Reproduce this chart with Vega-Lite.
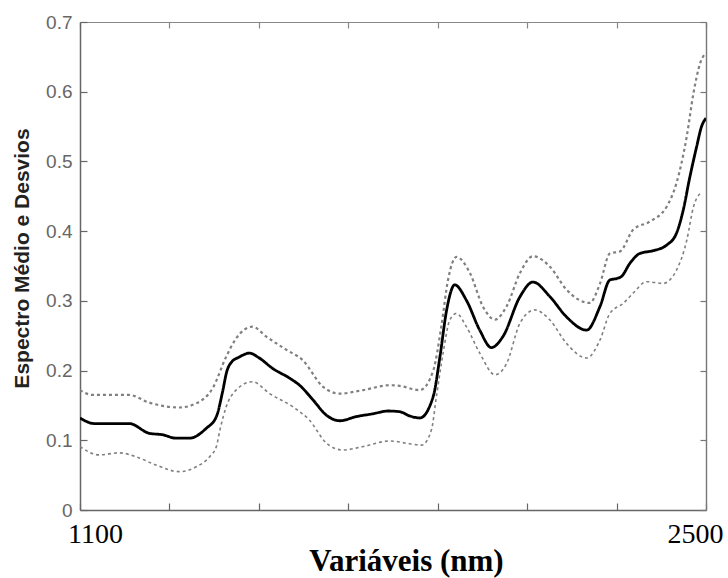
{
  "$schema": "https://vega.github.io/schema/vega-lite/v6.json",
  "width": 626,
  "height": 488,
  "autosize": {"type": "none"},
  "padding": {"left": 80, "top": 22, "right": 22, "bottom": 68},
  "background": "white",
  "config": {"view": {"stroke": null}},
  "data": {"values": [
    {"nm": 1100, "v": 0.132, "s": "media"}, {"nm": 1132, "v": 0.124, "s": "media"}, {"nm": 1210, "v": 0.124, "s": "media"},
    {"nm": 1255, "v": 0.110, "s": "media"}, {"nm": 1284, "v": 0.108, "s": "media"}, {"nm": 1315, "v": 0.103, "s": "media"},
    {"nm": 1345, "v": 0.103, "s": "media"}, {"nm": 1382, "v": 0.117, "s": "media"}, {"nm": 1405, "v": 0.134, "s": "media"},
    {"nm": 1419, "v": 0.170, "s": "media"}, {"nm": 1428, "v": 0.198, "s": "media"}, {"nm": 1440, "v": 0.213, "s": "media"},
    {"nm": 1455, "v": 0.219, "s": "media"},
    {"nm": 1479, "v": 0.225, "s": "media"}, {"nm": 1501, "v": 0.218, "s": "media"}, {"nm": 1531, "v": 0.203, "s": "media"},
    {"nm": 1569, "v": 0.189, "s": "media"}, {"nm": 1591, "v": 0.179, "s": "media"}, {"nm": 1621, "v": 0.158, "s": "media"},
    {"nm": 1651, "v": 0.136, "s": "media"}, {"nm": 1681, "v": 0.128, "s": "media"}, {"nm": 1718, "v": 0.134, "s": "media"},
    {"nm": 1755, "v": 0.138, "s": "media"}, {"nm": 1789, "v": 0.142, "s": "media"}, {"nm": 1815, "v": 0.141, "s": "media"},
    {"nm": 1837, "v": 0.135, "s": "media"}, {"nm": 1860, "v": 0.132, "s": "media"}, {"nm": 1890, "v": 0.163, "s": "media"},
    {"nm": 1905, "v": 0.220, "s": "media"}, {"nm": 1920, "v": 0.287, "s": "media"}, {"nm": 1938, "v": 0.323, "s": "media"},
    {"nm": 1964, "v": 0.301, "s": "media"}, {"nm": 1994, "v": 0.258, "s": "media"}, {"nm": 2020, "v": 0.233, "s": "media"},
    {"nm": 2046, "v": 0.249, "s": "media"}, {"nm": 2084, "v": 0.306, "s": "media"}, {"nm": 2113, "v": 0.327, "s": "media"},
    {"nm": 2151, "v": 0.306, "s": "media"}, {"nm": 2188, "v": 0.277, "s": "media"}, {"nm": 2233, "v": 0.258, "s": "media"},
    {"nm": 2263, "v": 0.292, "s": "media"}, {"nm": 2285, "v": 0.330, "s": "media"}, {"nm": 2300, "v": 0.332, "s": "media"},
    {"nm": 2311, "v": 0.335, "s": "media"}, {"nm": 2330, "v": 0.354, "s": "media"}, {"nm": 2352, "v": 0.368, "s": "media"},
    {"nm": 2382, "v": 0.372, "s": "media"}, {"nm": 2412, "v": 0.380, "s": "media"}, {"nm": 2434, "v": 0.397, "s": "media"},
    {"nm": 2449, "v": 0.430, "s": "media"}, {"nm": 2464, "v": 0.478, "s": "media"}, {"nm": 2479, "v": 0.521, "s": "media"},
    {"nm": 2490, "v": 0.550, "s": "media"}, {"nm": 2500, "v": 0.562, "s": "media"},

    {"nm": 1100, "v": 0.172, "s": "sup"}, {"nm": 1128, "v": 0.165, "s": "sup"}, {"nm": 1210, "v": 0.165, "s": "sup"},
    {"nm": 1255, "v": 0.154, "s": "sup"}, {"nm": 1322, "v": 0.147, "s": "sup"}, {"nm": 1360, "v": 0.153, "s": "sup"},
    {"nm": 1397, "v": 0.175, "s": "sup"}, {"nm": 1427, "v": 0.220, "s": "sup"}, {"nm": 1449, "v": 0.246, "s": "sup"},
    {"nm": 1486, "v": 0.263, "s": "sup"}, {"nm": 1516, "v": 0.249, "s": "sup"}, {"nm": 1561, "v": 0.230, "s": "sup"},
    {"nm": 1598, "v": 0.215, "s": "sup"}, {"nm": 1643, "v": 0.177, "s": "sup"}, {"nm": 1681, "v": 0.167, "s": "sup"},
    {"nm": 1733, "v": 0.172, "s": "sup"}, {"nm": 1793, "v": 0.179, "s": "sup"}, {"nm": 1815, "v": 0.178, "s": "sup"},
    {"nm": 1860, "v": 0.172, "s": "sup"}, {"nm": 1890, "v": 0.200, "s": "sup"}, {"nm": 1908, "v": 0.263, "s": "sup"},
    {"nm": 1923, "v": 0.330, "s": "sup"}, {"nm": 1942, "v": 0.363, "s": "sup"}, {"nm": 1972, "v": 0.340, "s": "sup"},
    {"nm": 2001, "v": 0.292, "s": "sup"}, {"nm": 2028, "v": 0.273, "s": "sup"}, {"nm": 2054, "v": 0.292, "s": "sup"},
    {"nm": 2084, "v": 0.340, "s": "sup"}, {"nm": 2113, "v": 0.364, "s": "sup"}, {"nm": 2151, "v": 0.349, "s": "sup"},
    {"nm": 2188, "v": 0.316, "s": "sup"}, {"nm": 2240, "v": 0.297, "s": "sup"}, {"nm": 2263, "v": 0.325, "s": "sup"},
    {"nm": 2285, "v": 0.368, "s": "sup"}, {"nm": 2308, "v": 0.371, "s": "sup"}, {"nm": 2337, "v": 0.402, "s": "sup"},
    {"nm": 2375, "v": 0.414, "s": "sup"}, {"nm": 2412, "v": 0.435, "s": "sup"}, {"nm": 2434, "v": 0.469, "s": "sup"},
    {"nm": 2457, "v": 0.536, "s": "sup"}, {"nm": 2472, "v": 0.598, "s": "sup"}, {"nm": 2487, "v": 0.641, "s": "sup"},
    {"nm": 2498, "v": 0.655, "s": "sup"},

    {"nm": 1100, "v": 0.091, "s": "inf"}, {"nm": 1143, "v": 0.079, "s": "inf"}, {"nm": 1188, "v": 0.082, "s": "inf"},
    {"nm": 1225, "v": 0.0765, "s": "inf"}, {"nm": 1270, "v": 0.0645, "s": "inf"}, {"nm": 1322, "v": 0.055, "s": "inf"},
    {"nm": 1360, "v": 0.062, "s": "inf"}, {"nm": 1390, "v": 0.0765, "s": "inf"}, {"nm": 1405, "v": 0.091, "s": "inf"},
    {"nm": 1413, "v": 0.115, "s": "inf"}, {"nm": 1427, "v": 0.148, "s": "inf"}, {"nm": 1449, "v": 0.172, "s": "inf"},
    {"nm": 1486, "v": 0.184, "s": "inf"}, {"nm": 1524, "v": 0.167, "s": "inf"}, {"nm": 1576, "v": 0.148, "s": "inf"},
    {"nm": 1613, "v": 0.129, "s": "inf"}, {"nm": 1651, "v": 0.096, "s": "inf"}, {"nm": 1688, "v": 0.086, "s": "inf"},
    {"nm": 1733, "v": 0.091, "s": "inf"}, {"nm": 1793, "v": 0.099, "s": "inf"}, {"nm": 1837, "v": 0.095, "s": "inf"},
    {"nm": 1864, "v": 0.093, "s": "inf"}, {"nm": 1886, "v": 0.115, "s": "inf"}, {"nm": 1897, "v": 0.1625, "s": "inf"},
    {"nm": 1912, "v": 0.225, "s": "inf"}, {"nm": 1927, "v": 0.2725, "s": "inf"}, {"nm": 1942, "v": 0.282, "s": "inf"},
    {"nm": 1964, "v": 0.263, "s": "inf"}, {"nm": 1994, "v": 0.225, "s": "inf"}, {"nm": 2028, "v": 0.194, "s": "inf"},
    {"nm": 2054, "v": 0.210, "s": "inf"}, {"nm": 2084, "v": 0.268, "s": "inf"}, {"nm": 2117, "v": 0.287, "s": "inf"},
    {"nm": 2151, "v": 0.2725, "s": "inf"}, {"nm": 2188, "v": 0.239, "s": "inf"}, {"nm": 2233, "v": 0.218, "s": "inf"},
    {"nm": 2263, "v": 0.244, "s": "inf"}, {"nm": 2285, "v": 0.282, "s": "inf"}, {"nm": 2315, "v": 0.2965, "s": "inf"},
    {"nm": 2337, "v": 0.311, "s": "inf"}, {"nm": 2367, "v": 0.3275, "s": "inf"}, {"nm": 2404, "v": 0.325, "s": "inf"},
    {"nm": 2434, "v": 0.344, "s": "inf"}, {"nm": 2457, "v": 0.387, "s": "inf"}, {"nm": 2472, "v": 0.435, "s": "inf"},
    {"nm": 2490, "v": 0.456, "s": "inf"}
  ]},
  "layer": [
    {
      "mark": {"type": "line", "interpolate": "monotone", "clip": true},
      "encoding": {
        "x": {
          "field": "nm", "type": "quantitative",
          "scale": {"domain": [1100, 2500], "nice": false, "zero": false},
          "axis": {
            "orient": "bottom",
            "values": [1100, 1300, 1500, 1700, 1900, 2100, 2300, 2500],
            "labelExpr": "datum.value == 1100 || datum.value == 2500 ? datum.label : ''",
            "format": "d",
            "grid": false,
            "domain": true, "domainColor": "#666", "domainWidth": 1.5,
            "ticks": true, "tickSize": -7, "tickColor": "#666", "tickWidth": 1.2,
            "labelFont": "Liberation Serif", "labelFontSize": 28, "labelColor": "#000",
            "labelPadding": 17, "labelFlush": false, "labelAlign": "center",
            "labelOffset": {"condition": {"test": "datum.value == 1100", "value": 15}, "value": -11},
            "title": "Variáveis (nm)",
            "titleFont": "Liberation Serif", "titleFontSize": 31, "titleFontWeight": "bold", "titleColor": "#000",
            "titleX": 326, "titleY": 60, "titleAlign": "center", "titleBaseline": "alphabetic"
          }
        },
        "y": {
          "field": "v", "type": "quantitative",
          "scale": {"domain": [0, 0.7], "nice": false},
          "axis": {
            "orient": "left",
            "values": [0, 0.1, 0.2, 0.3, 0.4, 0.5, 0.6, 0.7],
            "labelExpr": "datum.value == 0 ? '0' : format(datum.value, '.1f')",
            "grid": false,
            "domain": true, "domainColor": "#666", "domainWidth": 1.5,
            "ticks": true, "tickSize": -7, "tickColor": "#666", "tickWidth": 1.2,
            "labelFont": "Liberation Sans", "labelFontSize": 19, "labelColor": "#666",
            "labelPadding": 15,
            "title": "Espectro Médio e Desvios",
            "titleFont": "Liberation Sans", "titleFontSize": 21, "titleFontWeight": "bold", "titleColor": "#222",
            "titleX": -52, "titleY": 236, "titleAlign": "center", "titleBaseline": "alphabetic", "titleAngle": -90
          }
        },
        "detail": {"field": "s"},
        "color": {"field": "s", "type": "nominal", "scale": {"domain": ["media", "sup", "inf"], "range": ["#000000", "#808080", "#808080"]}, "legend": null},
        "strokeDash": {"field": "s", "type": "nominal", "scale": {"domain": ["media", "sup", "inf"], "range": [[1, 0], [3, 3], [3, 3]]}, "legend": null},
        "strokeWidth": {"field": "s", "type": "nominal", "scale": {"domain": ["media", "sup", "inf"], "range": [2.8, 1.6, 1.6]}, "legend": null}
      }
    },
    {
      "mark": {"type": "line", "opacity": 0},
      "encoding": {
        "x": {
          "field": "nm", "type": "quantitative",
          "scale": {"domain": [1100, 2500], "nice": false, "zero": false},
          "axis": {
            "orient": "top", "values": [1100, 1300, 1500, 1700, 1900, 2100, 2300, 2500],
            "labels": false, "title": null, "grid": false,
            "domain": true, "domainColor": "#888", "domainWidth": 1.2,
            "ticks": true, "tickSize": -6, "tickColor": "#888", "tickWidth": 1.2
          }
        },
        "y": {
          "field": "v", "type": "quantitative",
          "scale": {"domain": [0, 0.7], "nice": false},
          "axis": {
            "orient": "right", "values": [0, 0.1, 0.2, 0.3, 0.4, 0.5, 0.6, 0.7],
            "labels": false, "title": null, "grid": false,
            "domain": true, "domainColor": "#777", "domainWidth": 1.4,
            "ticks": true, "tickSize": -6, "tickColor": "#777", "tickWidth": 1.2
          }
        },
        "detail": {"field": "s"}
      }
    }
  ],
  "resolve": {"axis": {"x": "independent", "y": "independent"}}
}
